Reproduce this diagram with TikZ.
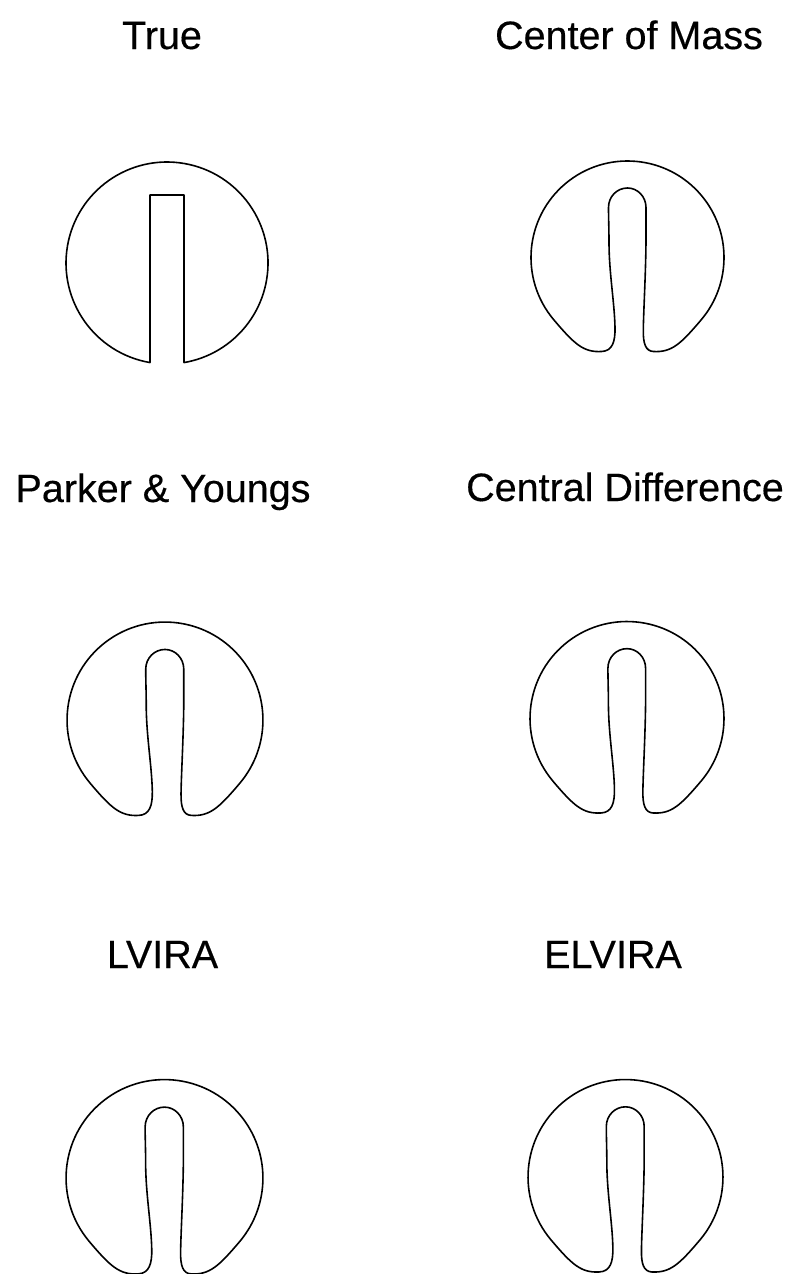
\documentclass[tikz,border=0pt]{standalone}
\usepackage{fontspec}
\setmainfont{Liberation Sans}
\newfontfamily\ttlfont[FakeBold=0.4]{Liberation Sans}
\begin{document}
\begin{tikzpicture}[x=1pt,y=-1pt,
  ttl/.style={font=\ttlfont\fontsize{39.5}{47}\selectfont, anchor=base, inner sep=0pt},
  outline/.style={draw=black, line width=1.6pt, line join=round},
]
\useasboundingbox[fill=white] (0,0) rectangle (792,1274);

\newcommand{\slotshape}[4]{% name, cx, cy, scale
  \begin{scope}[shift={(#2,#3)}, scale=#4]
    \draw[outline] (140:96.5) arc[start angle=140, end angle=400, radius=96.5]
      .. controls (53,86.8) and (44,95) .. (26,94)
      .. controls (18,93.6) and (15.5,86) .. (15.8,72)
      .. controls (16,55) and (18.5,10) .. (18.5,-20)
      .. controls (18.5,-35) and (18.5,-42) .. (18.5,-50)
      .. controls (18.5,-61) and (10,-69.5) .. (0,-69.5)
      .. controls (-10.5,-69.5) and (-19,-61) .. (-19,-50)
      .. controls (-19,-40) and (-18.5,-28) .. (-18.5,-15)
      .. controls (-18.5,15) and (-13,45) .. (-12.5,70)
      .. controls (-12.2,84) and (-15,93.6) .. (-26,94)
      .. controls (-44,95) and (-53,86.8) .. cycle;
    \coordinate (#1) at (0,0);
  \end{scope}
}

% Titles
\node[ttl] (tTrue) at (162,49) {True};
\node[ttl] (tCoM)  at (629,49) {Center of Mass};
\node[ttl] (tPY)   at (163,502) {Parker \& Youngs};
\node[ttl] (tCD)   at (625,501) {Central Difference};
\node[ttl] (tLV)   at (162.5,968) {LVIRA};
\node[ttl] (tEL)   at (613,968) {ELVIRA};

% True shape
\begin{scope}[shift={(167,263)}]
  \draw[outline] (-17,-68) -- (-17,99.56)
    arc[start angle=99.7, end angle=440.3, radius=101]
    -- (17,-68) -- cycle;
  \coordinate (sTrue) at (0,0);
\end{scope}

% Reconstructed shapes
\slotshape{sCoM}{627.5}{257.5}{1.0}
\slotshape{sPY}{165}{720}{1.015}
\slotshape{sCD}{627}{718.5}{1.005}
\slotshape{sLV}{164.5}{1178}{1.02}
\slotshape{sEL}{625.5}{1177}{1.01}
\end{tikzpicture}
\end{document}
